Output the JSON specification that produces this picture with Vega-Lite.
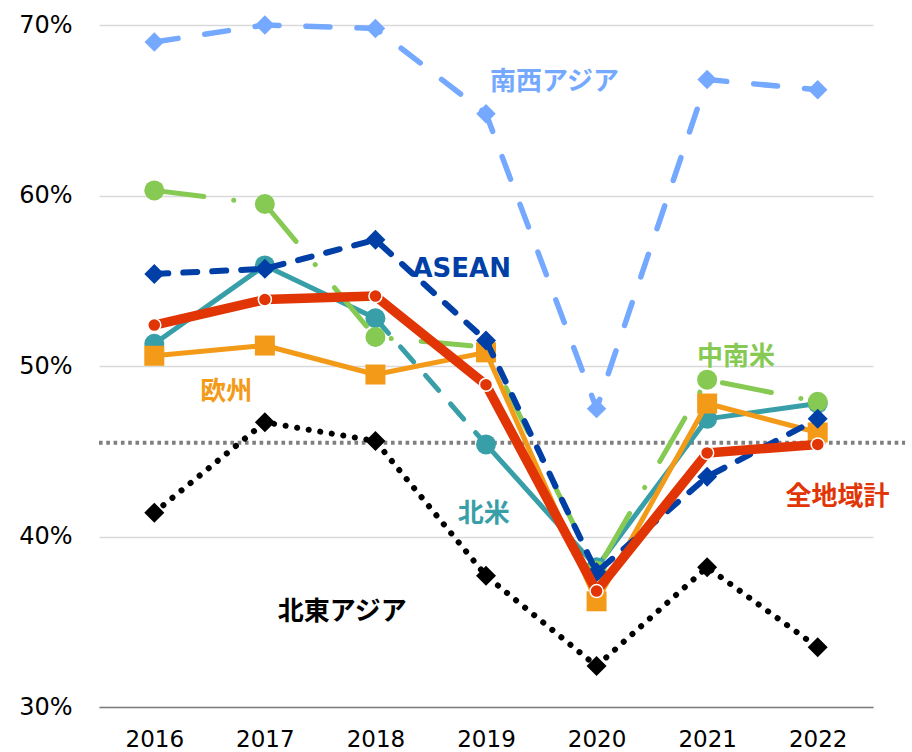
{
  "$schema": "https://vega.github.io/schema/vega-lite/v6.json",
  "width": 774,
  "height": 682,
  "autosize": {"type": "none"},
  "padding": {"left": 99, "top": 25, "right": 39, "bottom": 45},
  "background": "white",
  "config": {"view": {"stroke": null}},
  "datasets": {
    "series": [
      {"region": "南西アジア", "year": 2016, "value": 69.0},
      {"region": "南西アジア", "year": 2017, "value": 70.0},
      {"region": "南西アジア", "year": 2018, "value": 69.8},
      {"region": "南西アジア", "year": 2019, "value": 64.8},
      {"region": "南西アジア", "year": 2020, "value": 47.5},
      {"region": "南西アジア", "year": 2021, "value": 66.8},
      {"region": "南西アジア", "year": 2022, "value": 66.2},
      {"region": "ASEAN", "year": 2016, "value": 55.4},
      {"region": "ASEAN", "year": 2017, "value": 55.7},
      {"region": "ASEAN", "year": 2018, "value": 57.4},
      {"region": "ASEAN", "year": 2019, "value": 51.5},
      {"region": "ASEAN", "year": 2020, "value": 37.9},
      {"region": "ASEAN", "year": 2021, "value": 43.5},
      {"region": "ASEAN", "year": 2022, "value": 46.9},
      {"region": "中南米", "year": 2016, "value": 60.3},
      {"region": "中南米", "year": 2017, "value": 59.5},
      {"region": "中南米", "year": 2018, "value": 51.7},
      {"region": "中南米", "year": 2019, "value": 51.1},
      {"region": "中南米", "year": 2020, "value": 38.0},
      {"region": "中南米", "year": 2021, "value": 49.2},
      {"region": "中南米", "year": 2022, "value": 47.9},
      {"region": "北米", "year": 2016, "value": 51.3},
      {"region": "北米", "year": 2017, "value": 55.9},
      {"region": "北米", "year": 2018, "value": 52.8},
      {"region": "北米", "year": 2019, "value": 45.4},
      {"region": "北米", "year": 2020, "value": 38.2},
      {"region": "北米", "year": 2021, "value": 46.9},
      {"region": "北米", "year": 2022, "value": 47.8},
      {"region": "欧州", "year": 2016, "value": 50.6},
      {"region": "欧州", "year": 2017, "value": 51.2},
      {"region": "欧州", "year": 2018, "value": 49.5},
      {"region": "欧州", "year": 2019, "value": 50.8},
      {"region": "欧州", "year": 2020, "value": 36.2},
      {"region": "欧州", "year": 2021, "value": 47.8},
      {"region": "欧州", "year": 2022, "value": 46.1},
      {"region": "全地域計", "year": 2016, "value": 52.4},
      {"region": "全地域計", "year": 2017, "value": 53.9},
      {"region": "全地域計", "year": 2018, "value": 54.1},
      {"region": "全地域計", "year": 2019, "value": 48.9},
      {"region": "全地域計", "year": 2020, "value": 36.8},
      {"region": "全地域計", "year": 2021, "value": 44.9},
      {"region": "全地域計", "year": 2022, "value": 45.4},
      {"region": "北東アジア", "year": 2016, "value": 41.4},
      {"region": "北東アジア", "year": 2017, "value": 46.7},
      {"region": "北東アジア", "year": 2018, "value": 45.6},
      {"region": "北東アジア", "year": 2019, "value": 37.7},
      {"region": "北東アジア", "year": 2020, "value": 32.4},
      {"region": "北東アジア", "year": 2021, "value": 38.2},
      {"region": "北東アジア", "year": 2022, "value": 33.5}
    ],
    "labels": [
      {"label": "南西アジア", "year": 2019.62, "value": 66.64},
      {"label": "ASEAN", "year": 2018.78, "value": 55.66},
      {"label": "中南米", "year": 2021.26, "value": 50.55},
      {"label": "欧州", "year": 2016.65, "value": 48.5},
      {"label": "北米", "year": 2018.98, "value": 41.33},
      {"label": "全地域計", "year": 2022.18, "value": 42.33},
      {"label": "北東アジア", "year": 2017.7, "value": 35.58}
    ],
    "ref": [{"value": 45.5, "from": 2015.5, "to": 2022.79}]
  },
  "data": {"name": "series"},
  "encoding": {
    "x": {
      "field": "year",
      "type": "quantitative",
      "scale": {"domain": [2015.5, 2022.5], "nice": false, "zero": false},
      "axis": {
        "title": null,
        "values": [2016, 2017, 2018, 2019, 2020, 2021, 2022],
        "format": "d",
        "grid": false,
        "ticks": false,
        "tickSize": 0,
        "labelFont": "DejaVu Sans",
        "labelFontSize": 23,
        "labelColor": "#000000",
        "labelPadding": 21,
        "labelFlush": false,
        "labelOverlap": false,
        "domainColor": "#7F7F7F",
        "domainWidth": 1.5
      }
    },
    "y": {
      "field": "value",
      "type": "quantitative",
      "scale": {"domain": [30, 70], "nice": false, "zero": false},
      "axis": {
        "title": null,
        "values": [30, 40, 50, 60, 70],
        "labelExpr": "datum.value + '%'",
        "domain": false,
        "ticks": false,
        "tickSize": 0,
        "grid": true,
        "gridColor": "#D9D9D9",
        "gridWidth": 1.5,
        "labelFont": "DejaVu Sans",
        "labelFontSize": 24,
        "labelColor": "#000000",
        "labelPadding": 27
      }
    }
  },
  "layer": [
    {
      "data": {"name": "ref"},
      "mark": {"type": "rule", "color": "#7F7F7F", "strokeWidth": 4, "strokeDash": [3.6, 3.7], "clip": false},
      "encoding": {
        "x": {"field": "from", "type": "quantitative"},
        "x2": {"field": "to"},
        "y": {"field": "value", "type": "quantitative"}
      }
    },
    {
      "transform": [{"filter": "datum.region === '南西アジア'"}],
      "mark": {"type": "line", "color": "#75A8FF", "strokeWidth": 5.5, "strokeDash": [24, 27], "strokeCap": "round", "strokeJoin": "round"}
    },
    {
      "transform": [{"filter": "datum.region === '南西アジア'"}],
      "mark": {"type": "point", "shape": "diamond", "filled": true, "opacity": 1, "color": "#75A8FF", "size": 380}
    },
    {
      "transform": [{"filter": "datum.region === '北東アジア'"}],
      "mark": {"type": "line", "color": "#000000", "strokeWidth": 6, "strokeDash": [0.1, 11.6], "strokeCap": "round", "strokeJoin": "round"}
    },
    {
      "transform": [{"filter": "datum.region === '北東アジア'"}],
      "mark": {"type": "point", "shape": "diamond", "filled": true, "opacity": 1, "color": "#000000", "size": 400}
    },
    {
      "transform": [{"filter": "datum.region === '北米' && datum.year <= 2018"}],
      "mark": {"type": "line", "color": "#389FA8", "strokeWidth": 5, "strokeCap": "round", "strokeJoin": "round"}
    },
    {
      "transform": [{"filter": "datum.region === '北米' && datum.year >= 2019"}],
      "mark": {"type": "line", "color": "#389FA8", "strokeWidth": 5, "strokeCap": "round", "strokeJoin": "round"}
    },
    {
      "transform": [{"filter": "datum.region === '北米' && datum.year >= 2018 && datum.year <= 2019"}],
      "mark": {"type": "line", "color": "#389FA8", "strokeWidth": 5, "strokeDash": [20, 18], "strokeCap": "round", "strokeJoin": "round"}
    },
    {
      "transform": [{"filter": "datum.region === '北米'"}],
      "mark": {"type": "point", "shape": "circle", "filled": true, "opacity": 1, "color": "#389FA8", "size": 400}
    },
    {
      "transform": [{"filter": "datum.region === '中南米'"}],
      "mark": {"type": "line", "color": "#86C953", "strokeWidth": 5, "strokeDash": [50, 30, 0.1, 30], "strokeCap": "round", "strokeJoin": "round"}
    },
    {
      "transform": [{"filter": "datum.region === '中南米'"}],
      "mark": {"type": "point", "shape": "circle", "filled": true, "opacity": 1, "color": "#86C953", "size": 400}
    },
    {
      "transform": [{"filter": "datum.region === '欧州'"}],
      "mark": {"type": "line", "color": "#F39B19", "strokeWidth": 5, "strokeJoin": "round"}
    },
    {
      "transform": [{"filter": "datum.region === '欧州'"}],
      "mark": {"type": "point", "shape": "square", "filled": true, "opacity": 1, "color": "#F39B19", "size": 400}
    },
    {
      "transform": [{"filter": "datum.region === 'ASEAN'"}],
      "mark": {"type": "line", "color": "#003FA6", "strokeWidth": 6, "strokeDash": [14, 15], "strokeCap": "round", "strokeJoin": "round"}
    },
    {
      "transform": [{"filter": "datum.region === 'ASEAN'"}],
      "mark": {"type": "point", "shape": "diamond", "filled": true, "opacity": 1, "color": "#003FA6", "size": 400}
    },
    {
      "transform": [{"filter": "datum.region === '全地域計'"}],
      "mark": {"type": "line", "color": "#E13505", "strokeWidth": 9.5, "strokeJoin": "round"}
    },
    {
      "transform": [{"filter": "datum.region === '全地域計'"}],
      "mark": {"type": "point", "shape": "circle", "filled": true, "opacity": 1, "fill": "#E13505", "stroke": "#FFFFFF", "strokeWidth": 1.5, "size": 170}
    },
    {
      "data": {"name": "labels"},
      "mark": {"type": "text", "font": "DejaVu Sans, Noto Sans CJK JP", "fontWeight": "bold", "fontSize": 26, "align": "center", "baseline": "middle", "clip": false},
      "encoding": {
        "text": {"field": "label", "type": "nominal"},
        "color": {
          "field": "label",
          "type": "nominal",
          "scale": {
            "domain": ["南西アジア", "ASEAN", "中南米", "欧州", "北米", "全地域計", "北東アジア"],
            "range": ["#75A8FF", "#003FA6", "#86C953", "#F39B19", "#389FA8", "#E13505", "#000000"]
          },
          "legend": null
        }
      }
    }
  ]
}
